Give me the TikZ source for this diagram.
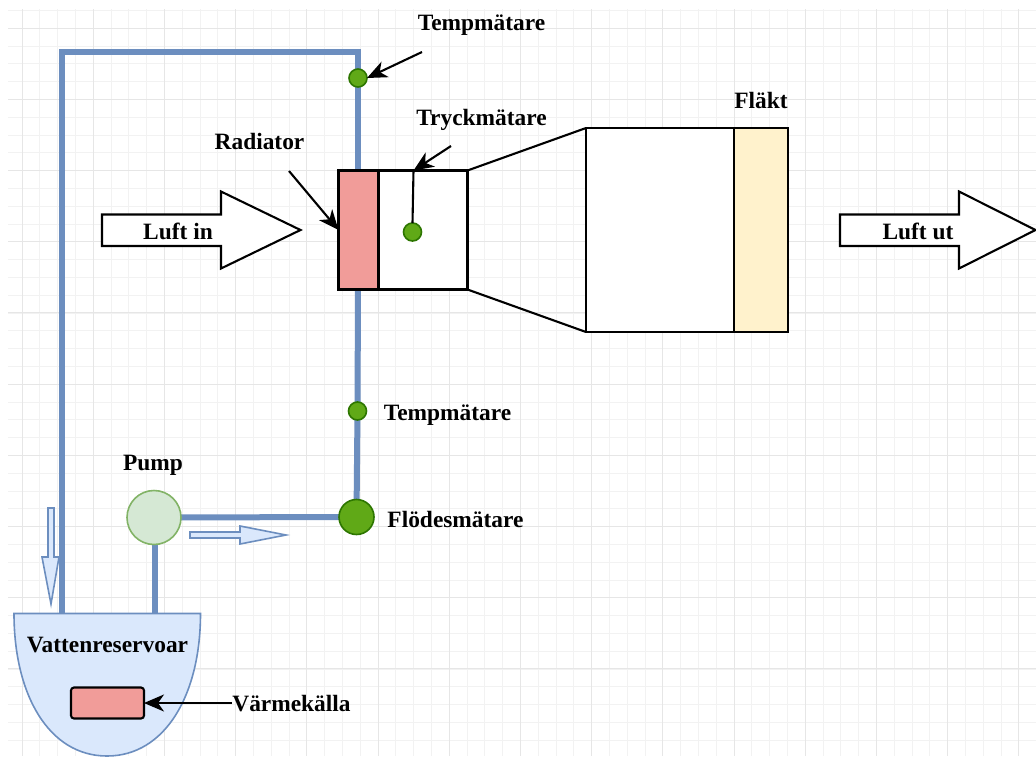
\documentclass[tikz,border=0pt]{standalone}
\usepackage{fontspec}
\setmainfont{Liberation Serif}
\usetikzlibrary{arrows.meta,calc}
\definecolor{pipeblue}{HTML}{6C8EBF}
\definecolor{lightblue}{HTML}{DAE8FC}
\definecolor{radred}{HTML}{F19C99}
\definecolor{fanyellow}{HTML}{FFF2CC}
\definecolor{pumpgreen}{HTML}{D5E8D4}
\definecolor{pumpedge}{HTML}{82B366}
\definecolor{sensgreen}{HTML}{60A917}
\definecolor{sensedge}{HTML}{2D7600}
\definecolor{gridminor}{HTML}{F2F2F2}
\definecolor{gridmajor}{HTML}{E6E6E6}
\tikzset{
  x=1pt,y=-1pt,
  pipe/.style={draw=pipeblue,line width=6pt,line join=miter},
  lbl/.style={font=\fontsize{23.4}{26}\selectfont\bfseries,inner sep=0pt,text=black},
  blk/.style={draw=black,line width=2.1pt,inner sep=0pt,outer sep=0pt,rectangle},
  sensor/.style={circle,draw=sensedge,fill=sensgreen,line width=1.6pt,inner sep=0pt,outer sep=0pt,minimum size=18pt},
  ptr/.style={draw=black,line width=2.1pt,-{Stealth[length=20pt,width=17pt,inset=6pt]}},
  airarrow/.style={draw=black,line width=2.1pt,fill=white,line join=miter},
  flowarrow/.style={draw=pipeblue,line width=1.6pt,fill=lightblue,line join=miter},
}
\begin{document}
\begin{tikzpicture}
\useasboundingbox (0,0) rectangle (1036,756);
\fill[white] (0,0) rectangle (1036,756);
% grid
\foreach \i in {0,...,58}{
  \pgfmathsetmacro\gx{22+17.8*(\i-1)+0.0}
  \ifdim \gx pt>8pt \draw[gridminor,line width=.8pt] (\gx,9) -- (\gx,756);\fi
}
\foreach \i in {0,...,42}{
  \pgfmathsetmacro\gy{10.4+17.8*\i}
  \draw[gridminor,line width=.8pt] (8,\gy) -- (1036,\gy);
}
\foreach \i in {0,...,14}{
  \pgfmathsetmacro\gx{22+71.2*\i}
  \draw[gridmajor,line width=1pt] (\gx,9) -- (\gx,756);
}
\foreach \i in {0,...,9}{
  \pgfmathsetmacro\gy{28+71.2*\i}
  \draw[gridmajor,line width=1pt] (8,\gy) -- (1036,\gy);
}
% reservoir
\draw[draw=pipeblue,line width=1.6pt,fill=lightblue]
  (14,613.5) -- (200.5,613.5) .. controls (200.5,695) and (165,756) .. (107,756)
  .. controls (49,756) and (14,695) .. (14,613.5) -- cycle;
\coordinate (resL) at (61.5,613);
\coordinate (resP) at (154.5,613);
\coordinate (cornerA) at (61.5,52);
\coordinate (cornerB) at (358,52);
% pipes behind the blocks
\coordinate (tone) at (358,78);
\coordinate (ttwo) at (357.5,411);
\coordinate (fm) at (356.5,517);
\coordinate (pm) at (154.5,517.5);
\draw[pipe] (resL) -- (cornerA) -- (cornerB) -- (358,171);
\draw[pipe] (358,289) -- (ttwo) -- (fm);
\draw[pipe] (pm) -- (fm);
\draw[pipe] (pm) -- (resP);
% main blocks
\node[blk,fill=radred,minimum width=40pt,minimum height=119pt] (rad) at (358.5,230) {};
\node[blk,fill=white,minimum width=89pt,minimum height=119pt] (duct) at (423,230) {};
\node[blk,fill=white,minimum width=148pt,minimum height=204pt] (chamber) at (660,230) {};
\node[blk,fill=fanyellow,minimum width=54pt,minimum height=204pt] (fan) at (761,230) {};
\draw[blk] (duct.north east) -- (chamber.north west);
\draw[blk] (duct.south east) -- (chamber.south west);
% pump and meters
\node[circle,draw=pumpedge,fill=pumpgreen,line width=1.6pt,inner sep=0pt,outer sep=0pt,minimum size=54pt] (pump) at (154,517.5) {};
\node[sensor,minimum size=35pt] (flow) at (fm) {};
\node[sensor] (t1) at (tone) {};
\node[sensor] (t2) at (ttwo) {};
\node[sensor] (p1) at (412.5,232) {};
% flow arrows
\draw[flowarrow] (190,532) -- (240,532) -- (240,526) -- (286,535) -- (240,544) -- (240,538) -- (190,538) -- cycle;
\draw[flowarrow] (48,508) -- (54,508) -- (54,557) -- (59,557) -- (51,604) -- (42,557) -- (48,557) -- cycle;
% air arrows
\draw[airarrow] (102,214.5) -- (221,214.5) -- (221,191.5) -- (300.5,230) -- (221,268.5) -- (221,246) -- (102,246) -- cycle;
\draw[airarrow] (840,214.5) -- (959,214.5) -- (959,191.5) -- (1035.5,230) -- (959,268.5) -- (959,246) -- (840,246) -- cycle;
% heat source
\node[draw=black,line width=2.1pt,fill=radred,rounded corners=3pt,inner sep=0pt,outer sep=0pt,minimum width=73pt,minimum height=31pt] (heat) at (107.5,703) {};
% labels
\node[lbl] (ltemp1) at (481.5,25) {Tempmätare};
\node[lbl] (ltryck) at (481.5,120) {Tryckmätare};
\node[lbl] (lrad) at (259.5,141.5) {Radiator};
\node[lbl] (lfan) at (761,100) {Fläkt};
\node[lbl] (lin) at (178,231) {Luft in};
\node[lbl] (lut) at (918,231) {Luft ut};
\node[lbl] (ltemp2) at (447.5,415.5) {Tempmätare};
\node[lbl] (lflow) at (455.5,519) {Flödesmätare};
\node[lbl] (lpump) at (153,465) {Pump};
\node[lbl] (lres) at (107.5,645.5) {Vattenreservoar};
\node[lbl] (lheat) at (291.5,704) {Värmekälla};
% pointers
\coordinate (ft1) at (422,52);
\coordinate (fp1) at (451,146);
\coordinate (frad) at (289,171);
\coordinate (pjoin) at (413.5,170.5);
\draw[ptr] (ft1) -- (t1.east);
\draw[ptr] (fp1) -- (pjoin);
\draw[blk] (pjoin) -- (p1.north);
\draw[ptr] (frad) -- (rad.west);
\draw[ptr] (lheat.west |- heat.east) -- (heat.east);
\end{tikzpicture}
\end{document}
